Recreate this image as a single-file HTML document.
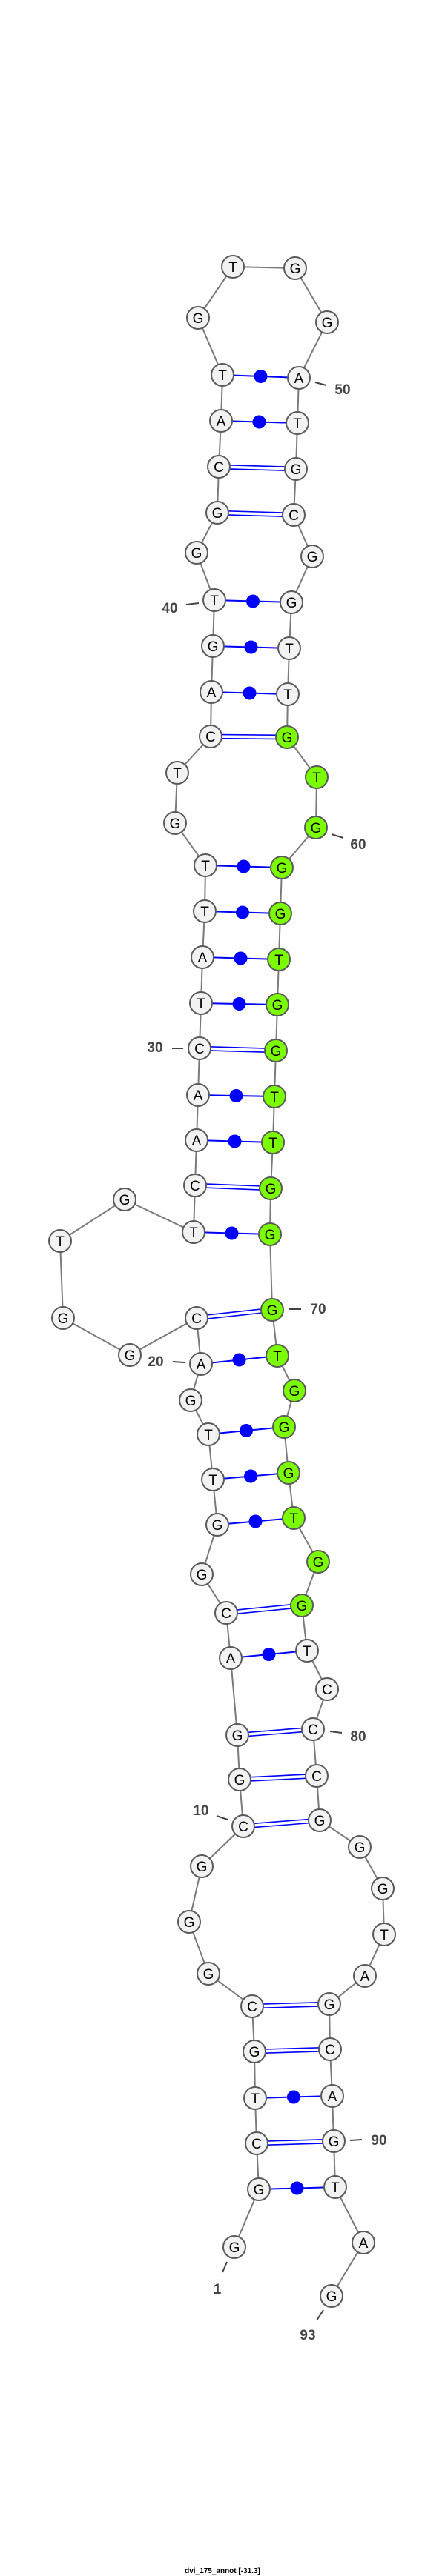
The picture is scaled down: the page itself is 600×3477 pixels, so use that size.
<!DOCTYPE html>
<html><head><meta charset="utf-8"><style>
html,body{margin:0;padding:0;background:#fff;}
svg{display:block;}
.n{fill:#f2f2f2;stroke:#5a5a5a;stroke-width:2;}
.g{fill:#7cfc00;stroke:#5a5a5a;stroke-width:2;}
.t{font-family:"Liberation Sans",sans-serif;font-size:19px;text-anchor:middle;fill:#000;}
.l{font-family:"Liberation Sans",sans-serif;font-size:19px;font-weight:bold;fill:#444;text-anchor:middle;}
</style></head><body>
<svg id="s" width="600" height="3477" viewBox="0 0 600 3477" xmlns="http://www.w3.org/2000/svg">
<g id="bb" stroke="#7a7a7a" stroke-width="2" fill="none"></g>
<g id="pr"></g>
<g id="nd"></g>
<g stroke="#444" stroke-width="2">
<line x1="425" y1="516" x2="440" y2="520"/>
<line x1="251" y1="816" x2="268" y2="814"/>
<line x1="447" y1="1126" x2="463" y2="1131"/>
<line x1="232" y1="1415" x2="247" y2="1415"/>
<line x1="390" y1="1767" x2="406" y2="1767"/>
<line x1="233" y1="1838" x2="249" y2="1839"/>
<line x1="445" y1="2337" x2="461" y2="2339"/>
<line x1="292" y1="2451" x2="307" y2="2456"/>
<line x1="472" y1="2889" x2="488" y2="2888"/>
<line x1="306" y1="3053" x2="300" y2="3067"/>
<line x1="436" y1="3118" x2="427" y2="3132"/>
</g>
<text class="l" x="462" y="532">50</text>
<text class="l" x="229" y="827">40</text>
<text class="l" x="483" y="1146">60</text>
<text class="l" x="209" y="1420">30</text>
<text class="l" x="429" y="1773">70</text>
<text class="l" x="210" y="1844">20</text>
<text class="l" x="483" y="2350">80</text>
<text class="l" x="271" y="2450">10</text>
<text class="l" x="511" y="2895">90</text>
<text class="l" x="293" y="3096">1</text>
<text class="l" x="415" y="3158">93</text>
<text x="300" y="3473" font-family="Liberation Sans,sans-serif" font-size="10" font-weight="bold" text-anchor="middle" fill="#000">dvi_175_annot [-31.3]</text>
</svg>
<script>
var N=[
['G',316,3033],['G',349,2955],['C',346,2893],['T',344,2832],['G',343,2769],['C',340,2708],['G',281,2664],['G',255,2594],['G',272,2519],['C',328,2465],
['G',323,2402],['G',320,2342],['A',311,2238],['C',305,2177],['G',272,2125],['G',293,2058],['T',287,1997],['T',281,1936],['G',257,1890],['A',271,1841],
['C',265,1779],['G',175,1829],['G',85,1779],['T',81,1675],['G',168,1619],['T',261,1663],['C',263,1600],['A',265,1539],['A',267,1478],['C',269,1415],
['T',271,1354],['A',273,1292],['T',276,1230],['T',277,1168],['G',236,1111],['T',239,1043],['C',284,994],['A',285,934],['G',287,872],['T',289,810],
['G',265,746],['G',293,692],['C',295,630],['A',298,568],['T',300,506],['G',267,429],['T',314,360],['G',398,362],['G',441,435],['A',403,510],
['T',401,571],['G',399,633],['C',396,695],['G',421,751],['G',393,813],['T',390,875],['T',388,937],['G',387,995],['T',427,1049],['G',426,1117],
['G',380,1171],['G',378,1233],['T',376,1295],['G',374,1356],['G',372,1418],['T',370,1480],['T',368,1542],['G',365,1604],['G',364,1666],['G',367,1768],
['T',374,1830],['G',397,1877],['G',383,1926],['G',389,1988],['T',396,2049],['G',429,2108],['G',407,2167],['T',414,2228],['C',441,2280],['C',422,2334],
['C',427,2397],['G',431,2457],['G',485,2493],['G',516,2549],['T',518,2611],['A',492,2667],['G',444,2705],['C',445,2766],['A',448,2829],['G',450,2890],
['T',452,2952],['A',490,3027],['G',447,3099]];
var P=[[2,91,0],[3,90,1],[4,89,0],[5,88,1],[6,87,1],[10,82,1],[11,81,1],[12,80,1],[13,78,0],[14,77,1],[16,75,0],[17,74,0],[18,73,0],[20,71,0],[21,70,1],[26,69,0],[27,68,1],[28,67,0],[29,66,0],[30,65,1],[31,64,0],[32,63,0],[33,62,0],[34,61,0],[37,58,1],[38,57,0],[39,56,0],[40,55,0],[42,53,1],[43,52,1],[44,51,0],[45,50,0]];
var NS='http://www.w3.org/2000/svg';
function el(p,t,a,txt){var e=document.createElementNS(NS,t);for(var k in a)e.setAttribute(k,a[k]);if(txt)e.textContent=txt;p.appendChild(e);return e;}
var bb=document.getElementById('bb'),pr=document.getElementById('pr'),nd=document.getElementById('nd');
for(var i=0;i<N.length-1;i++)el(bb,'line',{x1:N[i][1],y1:N[i][2],x2:N[i+1][1],y2:N[i+1][2]});
P.forEach(function(p){var a=N[p[0]-1],b=N[p[1]-1];
 if(p[2]){var dx=b[1]-a[1],dy=b[2]-a[2],L=Math.sqrt(dx*dx+dy*dy),ox=-dy/L*2.6,oy=dx/L*2.6;
  [1,-1].forEach(function(s){el(pr,'line',{x1:a[1]+s*ox,y1:a[2]+s*oy,x2:b[1]+s*ox,y2:b[2]+s*oy,stroke:'#0000ff','stroke-width':1.6});});}
 else{el(pr,'line',{x1:a[1],y1:a[2],x2:b[1],y2:b[2],stroke:'#0000ff','stroke-width':2});
  el(pr,'circle',{cx:(a[1]+b[1])/2,cy:(a[2]+b[2])/2,r:9,fill:'#0000ff'});}
});
N.forEach(function(n,i){var idx=i+1;var green=idx>=58&&idx<=77;
 el(nd,'circle',{cx:n[1],cy:n[2],r:15,'class':green?'g':'n'});
 el(nd,'text',{x:n[1],y:n[2]+7,'class':'t'},n[0]);});
</script>
</body></html>
